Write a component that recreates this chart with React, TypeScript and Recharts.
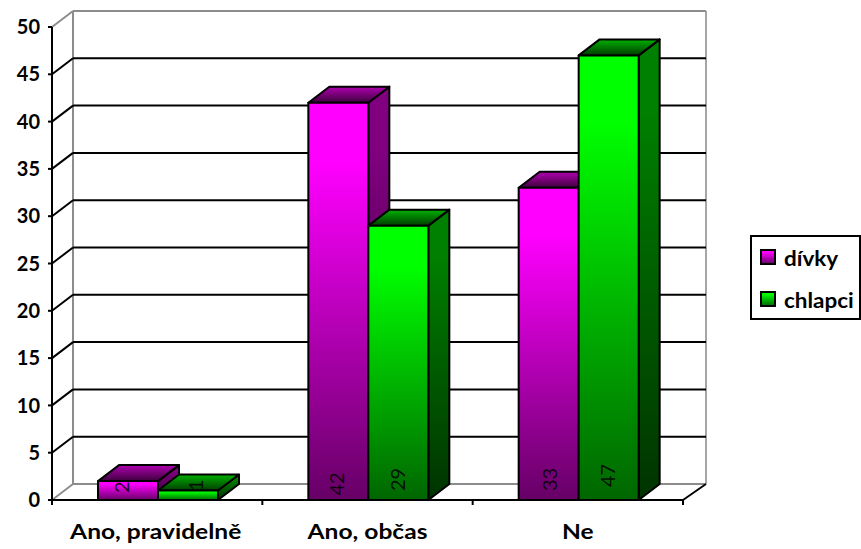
import { BarChart, Bar, XAxis, YAxis, CartesianGrid, Legend, LabelList } from "recharts";

// hodnoty
const categories = ["Ano, pravidelně", "Ano, občas", "Ne"];
const divky = [2, 42, 33];
const chlapci = [1, 29, 47];
const yTicks = [0, 5, 10, 15, 20, 25, 30, 35, 40, 45, 50];

const data = categories.map((name, i) => ({ name, divky: divky[i], chlapci: chlapci[i] }));

const FONT = "Lato, Carlito, sans-serif";
const DX = 21; // hloubka 3D
const DY = -16;
const LEFT = 52;
const TOP = 27;
const PLOT_W = 631;
const PLOT_H = 473;
const BAND = PLOT_W / categories.length;
const STRETCH = 1.17; // text v originále je vodorovně roztažený

function Gradients() {
  const grad = (id: string, top: string, bottom: string, hold = 0.15) => (
    <linearGradient id={id} x1="0" y1="0" x2="0" y2="1">
      <stop offset="0" stopColor={top} />
      <stop offset={hold} stopColor={top} />
      <stop offset="1" stopColor={bottom} />
    </linearGradient>
  );
  return (
    <defs>
      {grad("front-p", "#ff00ff", "#660066")}
      {grad("side-p", "#800080", "#330033")}
      {grad("top-p", "#b000b0", "#3d003d", 0)}
      {grad("front-g", "#00ff00", "#006600")}
      {grad("side-g", "#008000", "#003300")}
      {grad("top-g", "#00b000", "#003d00", 0)}
    </defs>
  );
}

const barShape = (suffix: string) => (props: any) => {
  const { y, width, height } = props;
  const x = props.x + 1;
  const r = x + width;
  const b = y + height;
  return (
    <g stroke="#000" strokeWidth={2} strokeLinejoin="round">
      <polygon points={`${r},${y} ${r + DX},${y + DY} ${r + DX},${b + DY} ${r},${b}`} fill={`url(#side-${suffix})`} />
      <polygon points={`${x},${y} ${x + DX},${y + DY} ${r + DX},${y + DY} ${r},${y}`} fill={`url(#top-${suffix})`} />
      <rect x={x} y={y} width={width} height={height} fill={`url(#front-${suffix})`} />
    </g>
  );
};

// popisky hodnot svisle u spodku sloupce
const valueLabel = (nudgeX: number[], lift: number[]) => (props: any) => {
  const { x, y, width, height, value, index } = props;
  const cx = x + width / 2 + nudgeX[index];
  const cy = y + height - lift[index];
  return (
    <text
      x={cx}
      y={cy}
      transform={`rotate(-90 ${cx} ${cy})`}
      textAnchor="start"
      dominantBaseline="central"
      fontFamily={FONT}
      fontSize={20}
      fill="#000"
      fillOpacity={0.85}
    >
      {value}
    </text>
  );
};

// mřížka: zadní stěna, šikmé čáry na levé stěně
const gridLine = (props: any) => {
  const { x1, x2, y1, index } = props;
  const last = yTicks.length - 1;
  const edge = index === 0 || index === last;
  const color = edge ? "#8c8c8c" : "#000";
  return (
    <g key={`grid-${index}`} fill="none">
      <line x1={x1 + DX} x2={x2 + DX + 2} y1={y1 + DY} y2={y1 + DY} stroke={color} strokeWidth={2} />
      <line x1={x1} x2={x1 + DX} y1={y1} y2={y1 + DY} stroke={color} strokeWidth={2} />
      {index === 0 && (
        <>
          <line x1={x1 + DX} x2={x1 + DX} y1={y1 + DY} y2={y1 + DY - PLOT_H} stroke="#8c8c8c" strokeWidth={2} />
          <line x1={x2 + DX + 2} x2={x2 + DX + 2} y1={y1 + DY} y2={y1 + DY - PLOT_H} stroke="#a6a6a6" strokeWidth={2} />
          <line x1={x2} x2={x2 + DX + 2} y1={y1} y2={y1 + DY} stroke="#000" strokeWidth={2} />
        </>
      )}
    </g>
  );
};

const XTick = (props: any) => {
  const { x, y, payload, index } = props;
  const axisY = y - 8;
  return (
    <g>
      <text
        transform={`translate(${index === 0 ? x - 1.5 : x} ${axisY + 39}) scale(${STRETCH} 1)`}
        textAnchor="middle"
        fontFamily={FONT}
        fontWeight={700}
        fontSize={21}
        fill="#000"
      >
        {payload.value}
      </text>
      {index === 0 && (
        <line x1={x - BAND / 2} x2={x - BAND / 2} y1={axisY} y2={axisY + 5} stroke="#000" strokeWidth={2} />
      )}
      <line x1={x + BAND / 2} x2={x + BAND / 2} y1={axisY} y2={axisY + 5} stroke="#000" strokeWidth={2} />
    </g>
  );
};

const LegendBox = (props: any) => {
  const items = props.payload || [];
  return (
    <div
      style={{
        boxSizing: "border-box",
        width: 111,
        height: 85,
        border: "2px solid #000",
        background: "#fff",
        fontFamily: FONT,
        fontWeight: 700,
        fontSize: 21,
        color: "#000",
        padding: "7px 0 0 8px",
      }}
    >
      {items.map((it: any) => (
        <div key={it.value} style={{ display: "flex", alignItems: "center", height: 26, marginBottom: 16 }}>
          <svg width={16} height={16} style={{ marginRight: 8, flex: "none" }}>
            <rect x={1} y={1} width={14} height={14} fill={it.color} stroke="#000" strokeWidth={2} />
          </svg>
          <span style={{ display: "inline-block", transform: "scaleX(1.07)", transformOrigin: "left center" }}>
            {it.value}
          </span>
        </div>
      ))}
    </div>
  );
};

export default function App() {
  return (
    <div style={{ position: "absolute", left: 0, top: 0, width: 861, height: 549 }}>
      <BarChart
        width={861}
        height={549}
        data={data}
        barSize={60}
        barGap={0}
        barCategoryGap={0}
        margin={{ top: TOP, right: 861 - LEFT - PLOT_W, bottom: 0, left: 0 }}
      >
        <Gradients />
        <CartesianGrid horizontal={gridLine} vertical={false} />
        <XAxis
          dataKey="name"
          height={49}
          axisLine={{ stroke: "#000", strokeWidth: 2 }}
          tickLine={false}
          tick={XTick}
          interval={0}
        />
        <YAxis
          width={LEFT}
          domain={[0, 50]}
          ticks={yTicks}
          interval={0}
          axisLine={{ stroke: "#000", strokeWidth: 2 }}
          tickLine={{ stroke: "#000", strokeWidth: 2 }}
          tickSize={4}
          tickMargin={8}
          tick={{ fontFamily: FONT, fontWeight: 700, fontSize: 20, fill: "#000" }}
        />
        <Legend
          layout="vertical"
          align="center"
          verticalAlign="middle"
          itemSorter={null}
          content={LegendBox}
          wrapperStyle={{ left: 750, top: 235, width: 111, height: 85 }}
        />
        <Bar dataKey="divky" name="dívky" fill="url(#front-p)" shape={barShape("p")} isAnimationActive={false}>
          <LabelList dataKey="divky" content={valueLabel([-5.7, -1, 1.2], [7, 4.4, 9])} />
        </Bar>
        <Bar dataKey="chlapci" name="chlapci" fill="url(#front-g)" shape={barShape("g")} isAnimationActive={false}>
          <LabelList dataKey="chlapci" content={valueLabel([7.8, -0.5, -0.2], [9, 9, 13])} />
        </Bar>
      </BarChart>
    </div>
  );
}
